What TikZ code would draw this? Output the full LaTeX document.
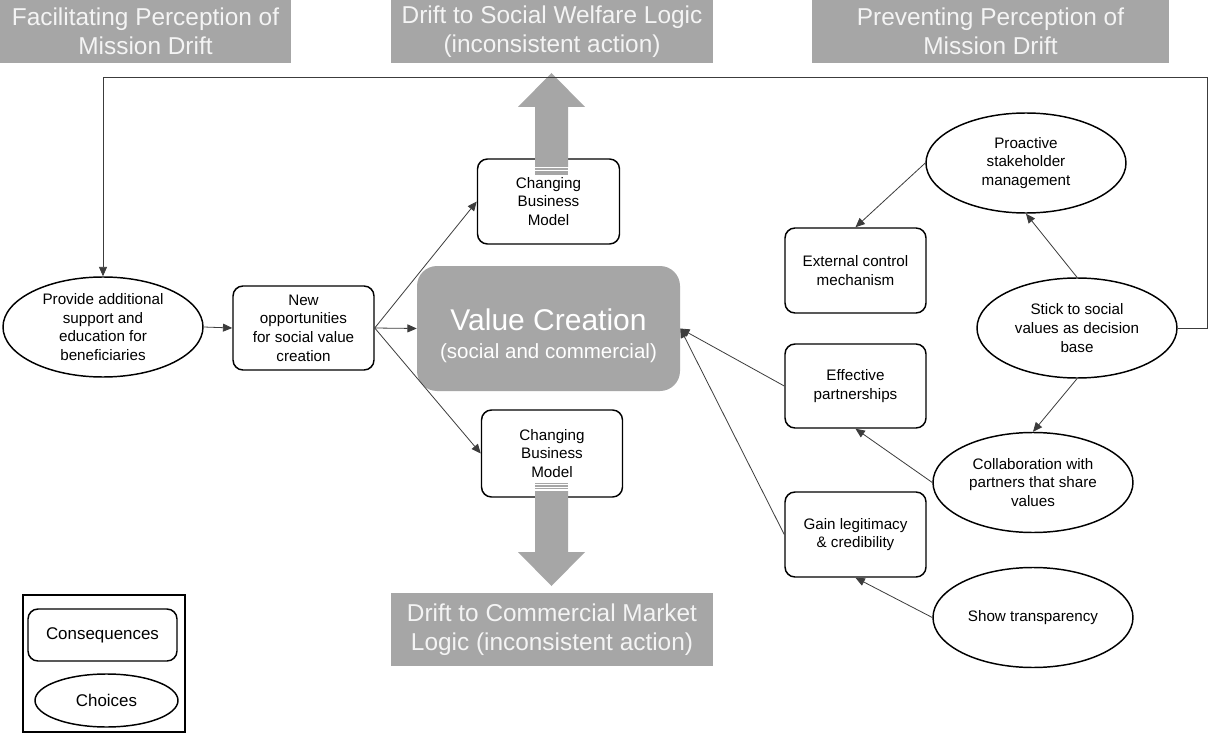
\documentclass[tikz,border=0pt]{standalone}
\usepackage{fontspec}
\setmainfont{Liberation Sans}
\usetikzlibrary{arrows.meta,shapes.geometric}
\definecolor{bannergray}{HTML}{A6A6A6}
\definecolor{linegray}{HTML}{3C3C3C}
\definecolor{bannertext}{HTML}{F4F4F4}
\newcommand\pxu{0.75pt}
\begin{document}
\begin{tikzpicture}[x=0.75pt,y=-0.75pt,
  banner/.style={fill=bannergray, text=bannertext, align=center, inner sep=0pt,
    font=\fontsize{18.3}{21.8}\selectfont},
  conbox/.style={draw=black, line width=1.1pt, rounded corners=7.5pt, fill=white,
    align=center, inner sep=0pt, font=\fontsize{11.4}{14}\selectfont},
  choice/.style={ellipse, draw=black, line width=1.1pt, fill=white, inner sep=0pt,
    minimum width=200*\pxu, minimum height=100*\pxu},
  choicetext/.style={align=center, inner sep=0pt, font=\fontsize{11.4}{14}\selectfont},
  link/.style={draw=linegray, line width=0.6pt, -{Triangle[length=7pt,width=6pt]}},
  bigarrow/.style={fill=bannergray, draw=none},
  stripe/.style={draw=bannergray, line width=1.2pt}
]
\useasboundingbox[fill=white] (0,0) rectangle (1208,742);

% headings
\node[banner, minimum width=291*\pxu, minimum height=63*\pxu] (facil) at (145.5,31.5)
  {Facilitating Perception of\\Mission Drift};
\node[banner, minimum width=322*\pxu, minimum height=63*\pxu] (welfare) at (552,31.5)
  {Drift to Social Welfare Logic\\(inconsistent action)};
\node[banner, minimum width=357*\pxu, minimum height=63*\pxu] (prevent) at (990.5,31.5)
  {Preventing Perception of\\Mission Drift};
\node[banner, minimum width=322*\pxu, minimum height=73*\pxu] (market) at (552,629.5)
  {Drift to Commercial Market\\Logic (inconsistent action)};

% left chain
\node[choice] (provide) at (103,327) {};
\node[choicetext] (provide-t) at (provide) {Provide additional\\support and\\education for\\beneficiaries};
\node[conbox, minimum width=141*\pxu, minimum height=84*\pxu] (newopp) at (303.5,328)
  {New\\opportunities\\for social value\\creation};

% centre
\node[fill=bannergray, rounded corners=15pt, text=white, align=center, inner sep=0pt,
  minimum width=263*\pxu, minimum height=125*\pxu, font=\fontsize{15.4}{20.5}\selectfont]
  (vc) at (548.5,328.5)
  {\rule{0pt}{27pt}{\fontsize{22.5}{26}\selectfont Value Creation}\\(social and commercial)};
\node[conbox, minimum width=142*\pxu, minimum height=85*\pxu] (cbmup) at (548.5,201.5)
  {Changing\\Business\\Model};
\node[conbox, minimum width=141*\pxu, minimum height=87*\pxu] (cbmdown) at (552,453.5)
  {Changing\\Business\\Model};

% right side
\node[choice] (proactive) at (1026,163) {};
\node[choicetext] (proactive-t) at (proactive) {Proactive\\stakeholder\\management};
\node[choice] (stick) at (1077,328) {};
\node[choicetext] (stick-t) at (stick) {Stick to social\\values as decision\\base};
\node[choice] (collab) at (1033,482.5) {};
\node[choicetext] (collab-t) at (collab) {Collaboration with\\partners that share\\values};
\node[choice] (show) at (1033,617.5) {};
\node[choicetext] (show-t) at (show) {Show transparency};
\node[conbox, minimum width=141*\pxu, minimum height=85*\pxu] (external) at (855.5,270.5)
  {External control\\mechanism};
\node[conbox, minimum width=141*\pxu, minimum height=84*\pxu] (effective) at (855.5,386)
  {Effective\\partnerships};
\node[conbox, minimum width=141*\pxu, minimum height=85*\pxu] (gain) at (855.5,534.5)
  {Gain legitimacy\\\& credibility};

% wide arrows out of the business-model boxes
\fill[bigarrow] (535,167) -- (535,107) -- (518,107) -- (551.5,73) -- (585,107)
  -- (568,107) -- (568,167) -- cycle;
\foreach \yy in {169.3,171.8,174.3} \draw[stripe] (535,\yy) -- (568,\yy);
\fill[bigarrow] (535,491) -- (535,552) -- (518,552) -- (551.5,586) -- (585,552)
  -- (568,552) -- (568,491) -- cycle;
\foreach \yy in {483.3,485.8,488.3} \draw[stripe] (535,\yy) -- (568,\yy);

% connectors
\coordinate (loopR) at (1207.3,77);
\coordinate (loopL) at (103,77);
\draw[link] (stick.east) -| (loopR) -- (loopL) -- (provide.north);
\draw[link] (provide.east) -- (newopp.west);
\draw[link] (newopp.east) -- (vc.west);
\draw[link] (newopp.east) -- (cbmup.west);
\draw[link] (newopp.east) -- (cbmdown.west);
\draw[link] (stick.north) -- (proactive.south);
\draw[link] (proactive.west) -- (external.north);
\draw[link] (stick.south) -- (collab.north);
\draw[link] (collab.west) -- (effective.south);
\draw[link] (show.west) -- (gain.south);
\draw[link] (effective.west) -- (vc.east);
\draw[link] (gain.west) -- (vc.east);

% key
\node[draw=black, line width=0.9pt, minimum width=162*\pxu, minimum height=137*\pxu,
  inner sep=0pt] (key) at (104,663.5) {};
\node[conbox, minimum width=149*\pxu, minimum height=52*\pxu,
  font=\fontsize{12.7}{15}\selectfont] (keycons) at (102.5,635) {Consequences};
\node[ellipse, draw=black, line width=1.1pt, inner sep=0pt, minimum width=143*\pxu,
  minimum height=53*\pxu, font=\fontsize{12.7}{15}\selectfont] (keychoice) at (106.5,700.5) {Choices};
\end{tikzpicture}
\end{document}
